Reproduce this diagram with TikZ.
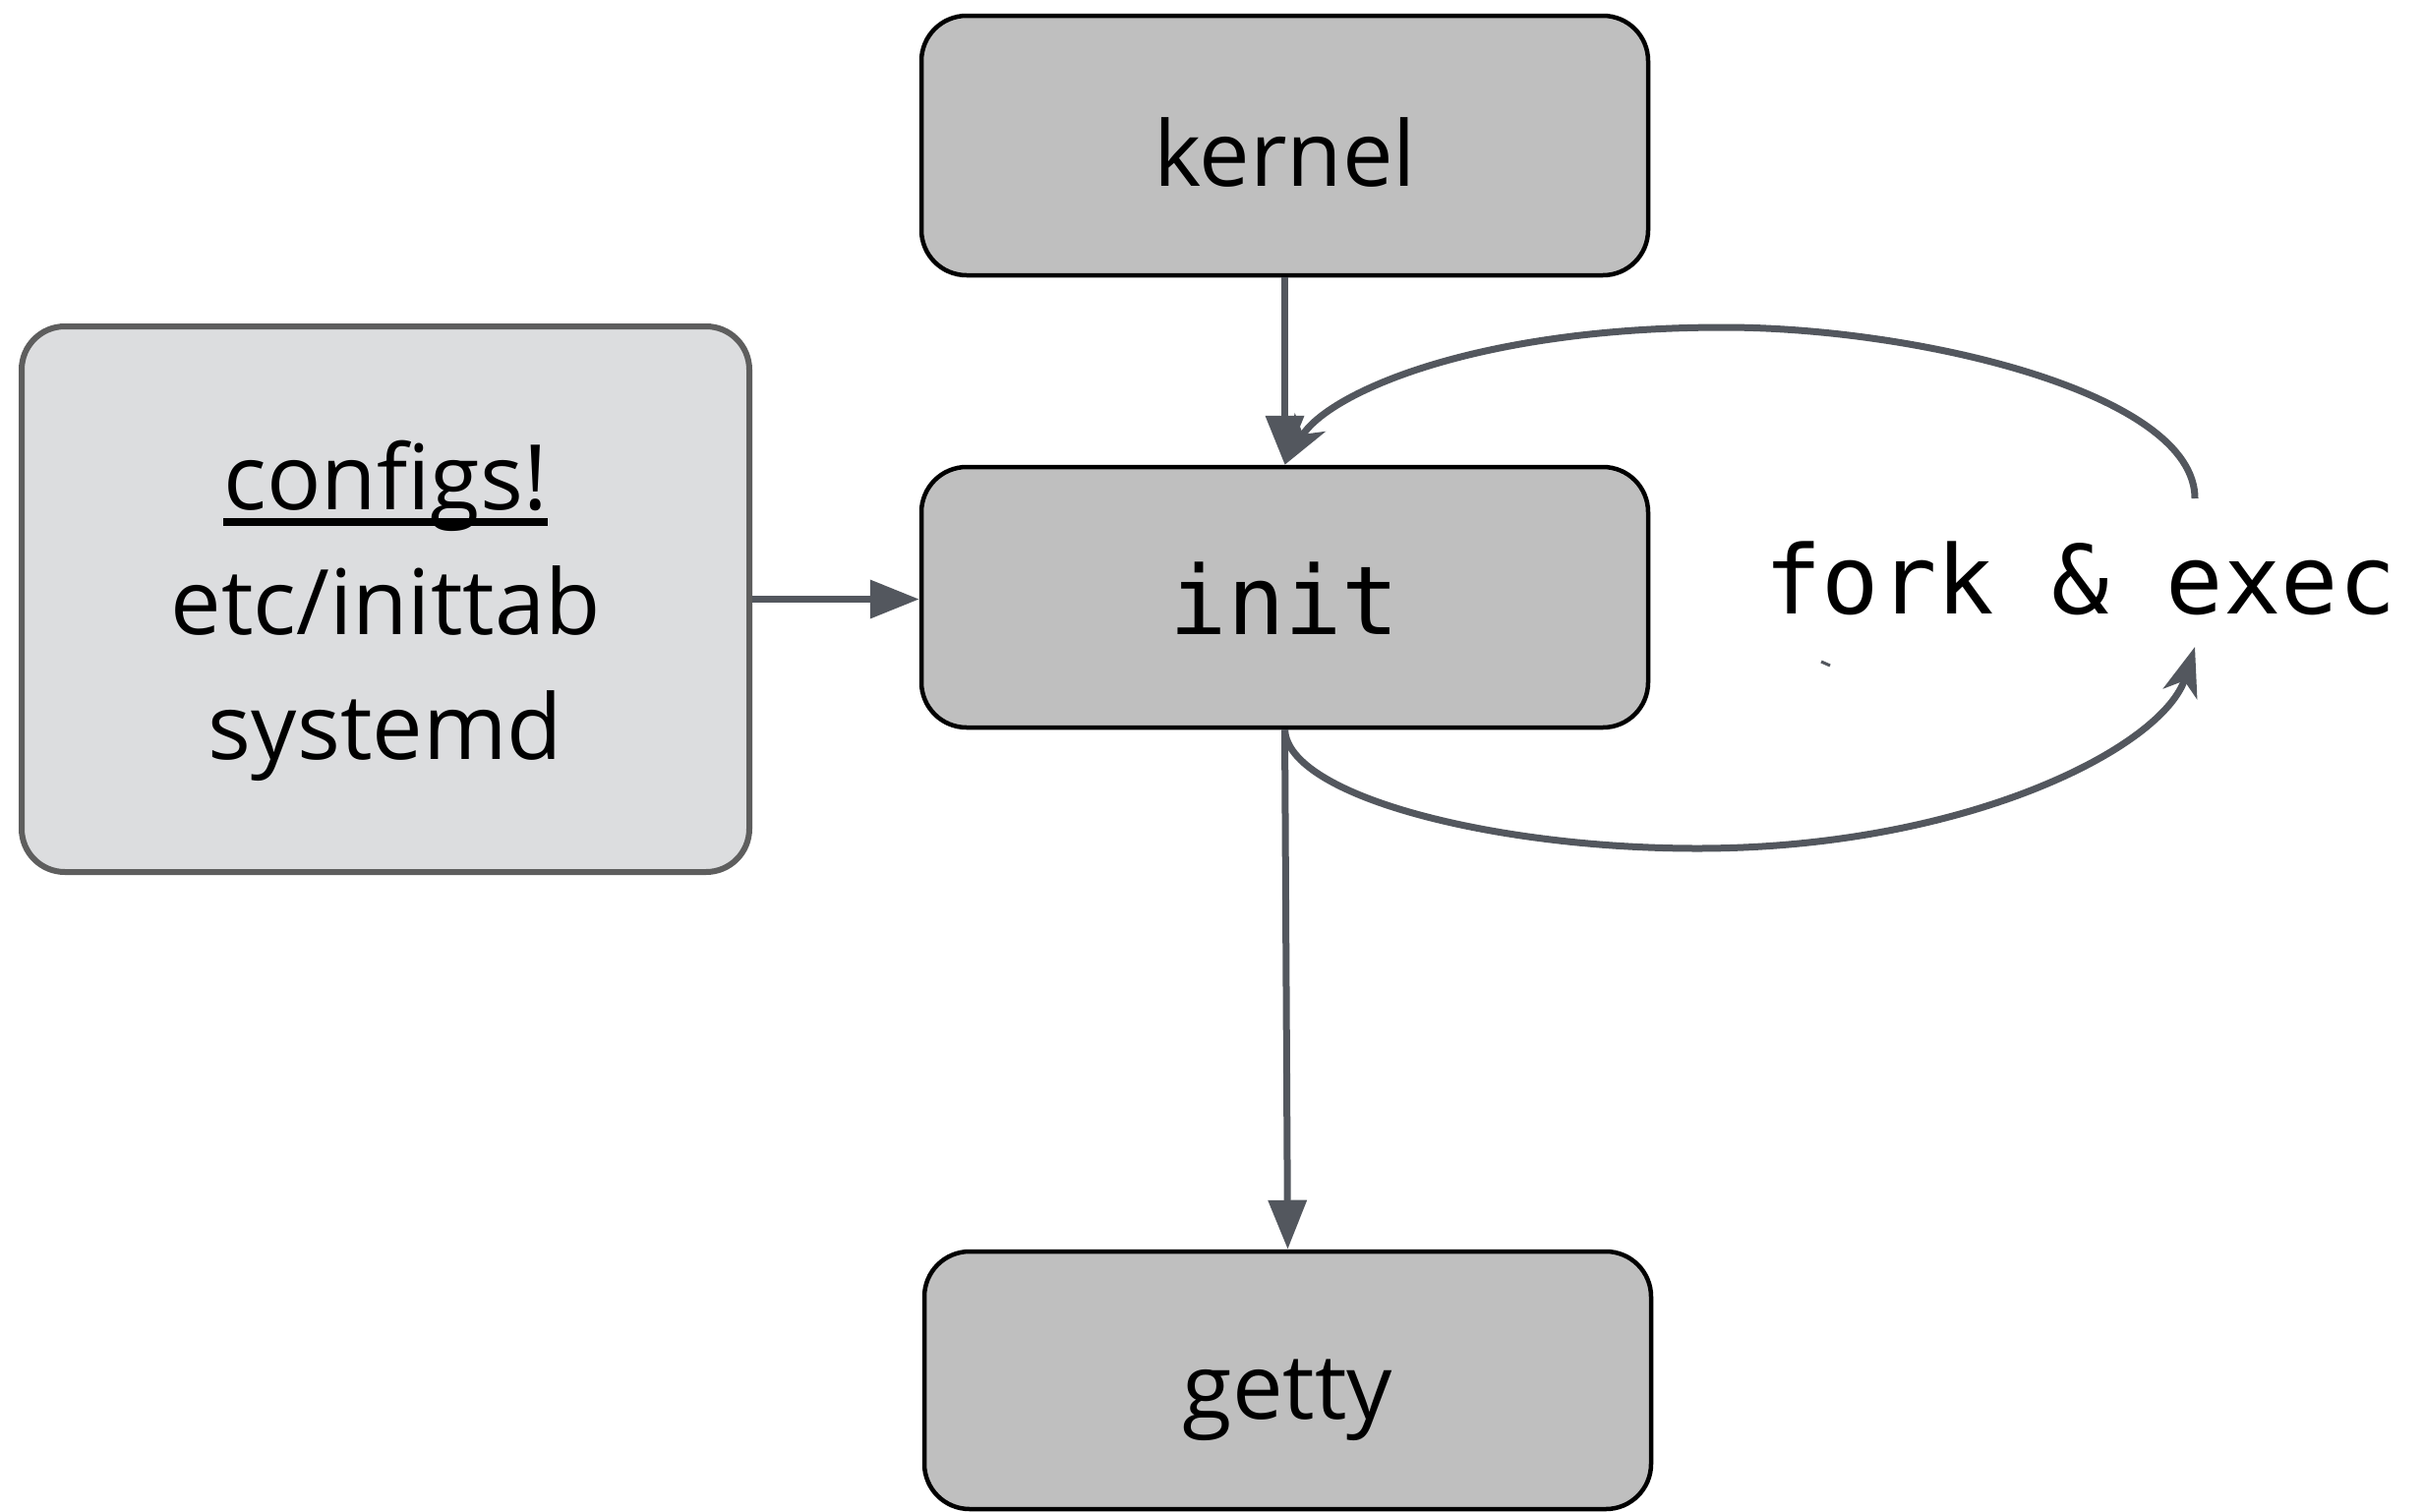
\documentclass[tikz,border=0pt]{standalone}
\usepackage{fontspec}
\setmainfont{Open Sans}
\newfontfamily\codefont{DejaVu Sans Mono}
\usetikzlibrary{arrows.meta}
\definecolor{boxgray}{HTML}{BFBFBF}
\definecolor{cfgfill}{HTML}{DCDDDF}
\definecolor{cfgline}{HTML}{5E5E5E}
\definecolor{wire}{HTML}{53575E}
\newsavebox\ulbox
% heavy underline for the heading of the config box
\newcommand\heavyul[1]{\sbox\ulbox{#1}\rlap{\rule[-16pt]{\wd\ulbox}{8pt}}\usebox\ulbox}
\begin{document}
\begin{tikzpicture}[x=1pt,y=-1pt,
  procbox/.style={draw=black, line width=4.5pt, fill=boxgray, rounded corners=46pt,
    minimum width=739pt, inner sep=0pt, text depth=0pt},
  cfgbox/.style={draw=cfgline, line width=6pt, fill=cfgfill, rounded corners=44pt,
    minimum width=740pt, minimum height=555pt, inner sep=0pt, align=center,
    font=\fontsize{92}{127}\selectfont},
  wirestyle/.style={draw=wire, line width=7pt},
  straighttip/.style={-{Triangle[length=50pt,width=38pt]}},
  curvetip/.style={-{Stealth[length=50pt,width=36pt,inset=14pt]}}]
\useasboundingbox (0,0) rectangle (2465,1537);

% process boxes
\node[procbox, minimum height=264pt, text height=82pt,
  font=\fontsize{92}{110}\selectfont] (kernel) at (1306.5,148) {kernel};
\node[procbox, minimum height=265pt, text height=75pt,
  font=\codefont\fontsize{97}{116}\selectfont] (init) at (1306.5,607.5) {init};
\node[procbox, minimum height=262pt, text height=78pt,
  font=\fontsize{92}{110}\selectfont] (getty) at (1309.5,1404) {getty};

% configuration sources
\node[cfgbox] (cfg) at (392,609.5)
  {\rule{0pt}{95pt}\heavyul{configs!}\\etc/inittab\\systemd};

% loop label
\node[font=\codefont\fontsize{97}{116}\selectfont, anchor=base west, inner sep=0pt]
  (forklabel) at (1794,624) {fork \& exec};

% free ends of the fork/exec loop
\coordinate (loopup) at (2232,507);
\coordinate (loopdown) at (2232,658);

% connectors
\draw[wirestyle, straighttip] (kernel.south) -- (init.north);
\draw[wirestyle, straighttip] (cfg.east) -- (cfg.east -| init.west);
\draw[wirestyle, straighttip] (init.south) -- (getty.north);

\draw[wirestyle, curvetip] (loopup)
  .. controls (2232,400) and (1950,333) .. (1753,333)
  .. controls (1500,333) and (1350,400) .. (init.north);
\draw[wirestyle, curvetip] (init.south)
  .. controls (1310,810) and (1520,863) .. (1726,863)
  .. controls (2000,863) and (2200,760) .. (loopdown);

% small stray stroke below the label
\draw[wire, line width=3pt] (1852,673) -- (1861,677);
\end{tikzpicture}
\end{document}
